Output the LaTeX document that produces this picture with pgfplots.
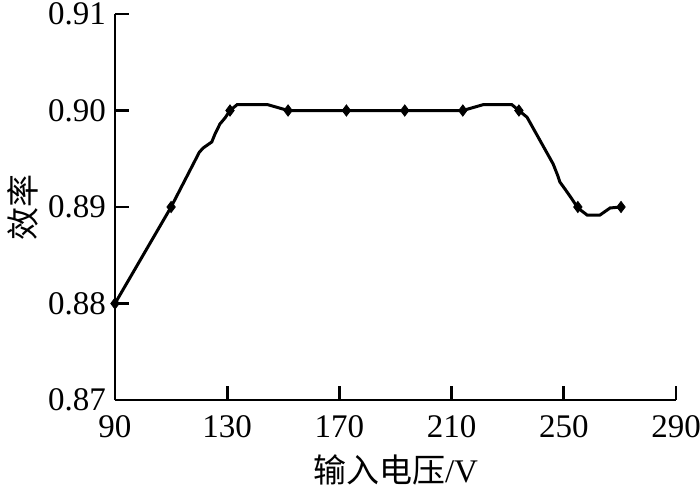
\documentclass[border=0pt]{standalone}
\usepackage{pgfplots}
\pgfplotsset{compat=1.18}
\usepackage{fontspec}
\setmainfont{Liberation Serif}
\newfontfamily\cjk{Noto Sans CJK SC}

\begin{document}
\begin{tikzpicture}
\useasboundingbox (-57.5pt,-44.5pt) rectangle (292.5pt,200pt);
\begin{axis}[
    at={(0,0)}, anchor=south west,
    scale only axis,
    width=280.5pt, height=193pt,
    xmin=90, xmax=290,
    ymin=0.87, ymax=0.91,
    xtick={90,130,...,290},
    ytick={0.87,0.88,0.89,0.90,0.91},
    axis x line*=bottom,
    axis y line*=left,
    axis line style={line width=1.4pt},
    tick align=inside,
    major tick length=7pt,
    tick style={line width=1.4pt, black},
    /pgf/number format/assume math mode=true,
    tick label style={font=\fontsize{16.5}{18}\selectfont},
    yticklabel style={xshift=-1pt, /pgf/number format/.cd, fixed, fixed zerofill, precision=2},
    xticklabel style={yshift=-4pt, /pgf/number format/.cd, fixed},
    xlabel={\cjk 输入电压\rmfamily/V},
    ylabel={\cjk 效率},
    xlabel style={font=\fontsize{16.5}{18}\selectfont, yshift=-2pt},
    ylabel style={font=\fontsize{16.5}{18}\selectfont, yshift=-2pt},
    clip=false,
]
\addplot[black, line width=1.5pt] coordinates {
(90,0.88) (110,0.89) (120.05,0.89567) (121.4,0.89611) (124.5,0.89674)
(125.65,0.89756) (127.4,0.8986) (129.2,0.89922) (131,0.90) (133.5,0.9006)
(144.5,0.9006) (151.7,0.90) (172.5,0.90) (193.3,0.90) (214,0.90)
(221.2,0.9006) (231.5,0.9006) (234,0.90) (236.9,0.8993) (246.2,0.89446)
(247.9,0.89321) (248.6,0.89259) (250.4,0.89187) (252.9,0.89083) (255,0.8899)
(258.3,0.88917) (262.9,0.88917) (266.5,0.8899) (270.4,0.89)
};
\addplot[only marks, mark=diamond*, mark size=2.8pt, black] coordinates {
(90,0.88) (110,0.89) (131,0.90) (151.7,0.90) (172.5,0.90) (193.3,0.90)
(214,0.90) (234,0.90) (255,0.89) (270.4,0.89)
};
\end{axis}
\end{tikzpicture}
\end{document}
